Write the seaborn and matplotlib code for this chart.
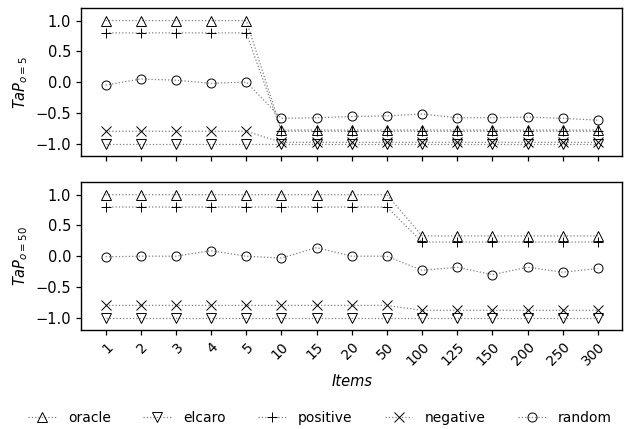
import matplotlib
matplotlib.use("Agg")
import matplotlib.pyplot as plt
import seaborn as sns
import pandas as pd
import numpy as np
from matplotlib.lines import Line2D

items = ["1", "2", "3", "4", "5", "10", "15", "20", "50", "100", "125", "150", "200", "250", "300"]

# TaP o=5
top_oracle = [1.0, 1.0, 1.0, 1.0, 1.0, -0.78, -0.78, -0.78, -0.78, -0.78, -0.78, -0.78, -0.78, -0.78, -0.78]
top_elcaro = [-1.0] * 15
top_positive = [0.8, 0.8, 0.8, 0.8, 0.8, -0.8, -0.8, -0.8, -0.8, -0.8, -0.8, -0.8, -0.8, -0.8, -0.8]
top_negative = [-0.8, -0.8, -0.8, -0.8, -0.8, -0.98, -0.98, -0.98, -0.98, -0.98, -0.98, -0.98, -0.98, -0.98, -0.98]
top_random = [-0.05, 0.05, 0.03, -0.02, 0.0, -0.59, -0.58, -0.56, -0.55, -0.52, -0.58, -0.58, -0.57, -0.59, -0.62]

# TaP o=50
bot_oracle = [1.0, 1.0, 1.0, 1.0, 1.0, 1.0, 1.0, 1.0, 1.0, 0.33, 0.33, 0.33, 0.33, 0.33, 0.33]
bot_elcaro = [-1.0] * 15
bot_positive = [0.8, 0.8, 0.8, 0.8, 0.8, 0.8, 0.8, 0.8, 0.8, 0.23, 0.23, 0.23, 0.23, 0.23, 0.23]
bot_negative = [-0.8, -0.8, -0.8, -0.8, -0.8, -0.8, -0.8, -0.8, -0.8, -0.88, -0.88, -0.88, -0.88, -0.88, -0.88]
bot_random = [-0.01, 0.0, 0.0, 0.09, 0.0, -0.03, 0.14, 0.0, 0.0, -0.23, -0.18, -0.30, -0.18, -0.26, -0.20]

series_names = ["oracle", "elcaro", "positive", "negative", "random"]
markers = {"oracle": "^", "elcaro": "v", "positive": "+", "negative": "x", "random": "o"}

sns.set_theme(style="ticks")
plt.rcParams["font.family"] = ["DejaVu Sans"]
plt.rcParams["text.color"] = "black"
plt.rcParams["axes.labelcolor"] = "black"

fig, axes = plt.subplots(2, 1, figsize=(6.3, 4.29), dpi=100, sharex=True)

panels = [
    (axes[0], [top_oracle, top_elcaro, top_positive, top_negative, top_random], r"$TaP_{o=5}$"),
    (axes[1], [bot_oracle, bot_elcaro, bot_positive, bot_negative, bot_random], r"$TaP_{o=50}$"),
]

MS = 6.5
FS = 10
for ax, vals, ylab in panels:
    for name, v in zip(series_names, vals):
        df = pd.DataFrame({"Items": items, "val": v})
        sns.lineplot(data=df, x="Items", y="val", ax=ax, sort=False,
                     color="gray", linestyle=":", linewidth=0.9,
                     marker=markers[name], markersize=MS, mfc="none",
                     mec="black", mew=0.7)
    ax.set_ylim(-1.2, 1.2)
    ax.set_yticks([-1.0, -0.5, 0.0, 0.5, 1.0])
    ax.set_ylabel(ylab, fontsize=FS + 0.5)
    ax.set_xlabel("")
    ax.tick_params(labelsize=FS + 0.5, colors="black", length=3.5, width=0.9)
    for s in ax.spines.values():
        s.set_color("black")
        s.set_linewidth(1.0)

axes[1].set_xlabel("Items", fontstyle="italic", fontsize=FS + 0.5)
plt.setp(axes[1].get_xticklabels(), rotation=45, ha="right", rotation_mode="anchor", fontsize=FS)
axes[0].tick_params(labelbottom=False)

handles = [Line2D([0], [0], color="gray", linestyle=":", linewidth=0.9,
                  marker=markers[n], markersize=MS, mfc="none", mec="black", mew=0.7)
           for n in series_names]
fig.legend(handles, series_names, loc="center", ncol=5, frameon=False,
           fontsize=FS, bbox_to_anchor=(0.508, 0.025), columnspacing=2.3, handlelength=2.0,
           handletextpad=0.9)

fig.subplots_adjust(left=0.1286, right=0.988, top=0.9807, bottom=0.2308, hspace=0.18)
fig.savefig("out.png", dpi=100)
